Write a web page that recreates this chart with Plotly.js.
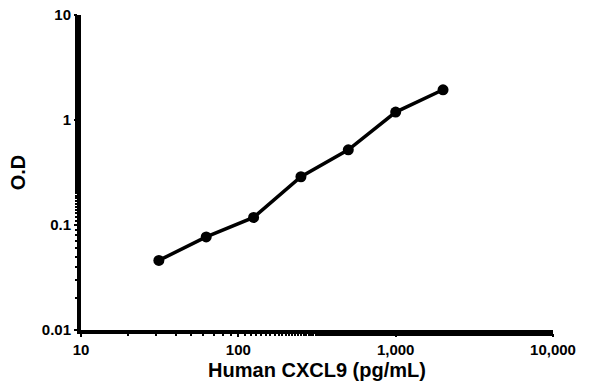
<!DOCTYPE html>
<html>
<head>
<meta charset="utf-8">
<script src="https://cdn.plot.ly/plotly-3.0.1.min.js"></script>
<style>html,body{margin:0;padding:0;background:#fff;}#chart{width:600px;height:392px;}</style>
</head>
<body>
<div id="chart"></div>
<script>
var concentration = [31.25, 62.5, 125, 250, 500, 1000, 2000];
var od = [0.046, 0.077, 0.118, 0.288, 0.52, 1.19, 1.94];
var xTickVals = [10, 100, 1000, 10000];
var xTickText = ['10', '100', '1,000', '10,000'];
var yTickVals = [0.01, 0.1, 1, 10];
var yTickText = ['0.01', '0.1', '1', '10'];

var trace = {
  x: concentration,
  y: od,
  type: 'scatter',
  mode: 'lines+markers',
  line: {color: '#000', width: 3.5},
  marker: {color: '#000', size: 11},
  showlegend: false
};
var font = {family: 'Liberation Sans, Arial, sans-serif', color: '#000'};
var layout = {
  width: 600, height: 392,
  margin: {l: 81, r: 47, t: 15, b: 62},
  paper_bgcolor: '#fff', plot_bgcolor: '#fff',
  font: font,
  xaxis: {
    type: 'log', range: [1, 4],
    tickvals: xTickVals, ticktext: xTickText,
    showgrid: false, zeroline: false,
    showline: true, linecolor: '#000', linewidth: 4,
    ticks: 'outside', ticklen: 3, tickwidth: 2, tickcolor: '#000',
    minor: {ticks: 'outside', ticklen: 2, tickwidth: 2, tickcolor: '#000', showgrid: false},
    tickfont: {family: font.family, size: 15, color: '#000', weight: 'bold'},
    title: {text: '<b>Human CXCL9 (pg/mL)</b>', font: {family: font.family, size: 20, color: '#000'}, standoff: 7}
  },
  yaxis: {
    type: 'log', range: [-2, 1],
    tickvals: yTickVals, ticktext: yTickText,
    showgrid: false, zeroline: false,
    showline: true, linecolor: '#000', linewidth: 4,
    ticks: 'outside', ticklen: 3, tickwidth: 2, tickcolor: '#000',
    minor: {ticks: 'outside', ticklen: 2, tickwidth: 2, tickcolor: '#000', showgrid: false},
    tickfont: {family: font.family, size: 15, color: '#000', weight: 'bold'},
    title: {text: '<b>O.D</b>', font: {family: font.family, size: 20, color: '#000'}, standoff: 12}
  }
};
Plotly.newPlot('chart', [trace], layout, {staticPlot: true, displayModeBar: false});
</script>
</body>
</html>
